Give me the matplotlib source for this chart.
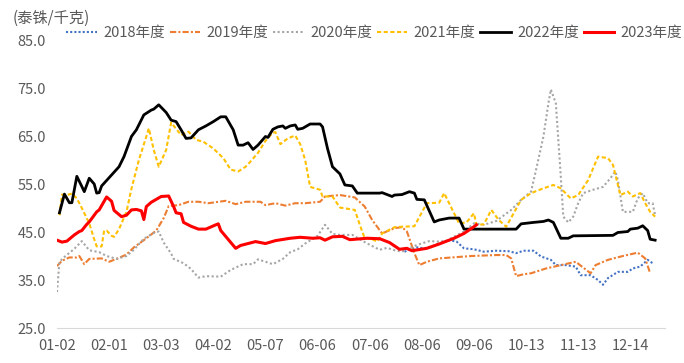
import matplotlib
matplotlib.use("Agg")
import matplotlib.pyplot as plt

plt.rcParams['font.family'] = ['Noto Sans CJK SC', 'DejaVu Sans']

# Categories: trading-day index along the year, labels every 21 points
tick_pos = [0, 21, 42, 63, 84, 105, 126, 147, 168, 189, 210, 231]
tick_labels = ['01-02', '02-01', '03-03', '04-02', '05-07', '06-06',
               '07-06', '08-06', '09-06', '10-13', '11-13', '12-14']

# 2018 (blue, dotted)
x2018 = [140, 145, 148, 151, 154, 158, 161, 164, 168, 172, 177, 182, 185, 188,
         192, 195, 199, 201, 205, 209, 211, 215, 218, 220, 222, 226, 230, 232,
         235, 238, 240]
y2018 = [40.9, 41.8, 41.6, 42.0, 42.6, 43.3, 43.0, 41.6, 41.4, 40.9, 41.1, 41.0,
         40.6, 41.1, 41.1, 39.9, 39.2, 38.1, 38.1, 37.8, 36.0, 36.0, 35.0, 34.0,
         35.4, 36.7, 36.7, 37.4, 37.8, 39.2, 38.5]

# 2019 (orange, dash-dot)
x2019 = [0, 2, 5, 8, 9, 11, 13, 18, 21, 24, 28, 31, 35, 38, 40, 43, 45, 49, 53,
         57, 61, 68, 72, 76, 82, 84, 88, 92, 96, 100, 106, 108, 114, 120, 124,
         127, 131, 136, 139, 141, 144, 146, 149, 154, 167, 177, 181, 183, 185,
         188, 191, 197, 203, 209, 215, 217, 222, 228, 234, 237, 239]
y2019 = [37.9, 39.0, 39.7, 39.7, 40.0, 38.3, 39.4, 39.5, 38.8, 39.4, 40.3, 41.8,
         43.3, 44.5, 45.3, 47.9, 50.4, 50.6, 51.3, 51.3, 51.0, 51.5, 50.8, 51.3,
         51.3, 50.6, 51.0, 50.5, 51.0, 51.0, 51.3, 52.4, 52.7, 52.2, 50.3, 47.5,
         44.7, 45.8, 46.0, 45.1, 40.6, 38.1, 38.8, 39.5, 40.0, 40.2, 40.2, 39.5,
         35.8, 36.2, 36.4, 37.4, 38.1, 38.8, 36.4, 38.1, 39.2, 40.0, 40.7, 39.5,
         36.4]

# 2020 (grey, dotted)
x2020 = [0, 1, 3, 7, 10, 13, 17, 20, 24, 28, 31, 35, 39, 41, 43, 46, 47, 51, 54,
         57, 60, 66, 70, 75, 79, 81, 84, 87, 91, 94, 97, 100, 105, 108, 111, 114,
         119, 125, 130, 133, 136, 139, 145, 150, 154, 157, 164, 168, 172, 177,
         183, 187, 191, 193, 196, 198, 199, 201, 203, 204, 206, 208, 210, 212,
         216, 220, 223, 225, 226, 228, 232, 234, 236, 238, 240, 241]
y2020 = [32.5, 38.8, 39.8, 41.5, 43.1, 41.2, 40.8, 40.0, 39.4, 40.0, 41.3, 43.6,
         44.8, 45.1, 42.8, 40.5, 39.4, 38.5, 37.3, 35.5, 35.8, 35.7, 37.1, 38.3,
         38.3, 39.3, 38.8, 38.3, 39.4, 40.8, 41.4, 42.6, 44.2, 46.5, 44.6, 44.4,
         44.4, 42.6, 41.3, 41.7, 41.2, 40.9, 42.3, 43.1, 43.0, 43.2, 45.1, 46.8,
         46.5, 47.3, 49.6, 51.7, 53.4, 57.9, 64.9, 71.8, 74.7, 71.8, 56.5, 48.2,
         47.0, 48.2, 51.0, 53.1, 53.8, 54.4, 56.2, 57.6, 55.8, 49.2, 49.2, 52.0,
         53.1, 51.0, 51.0, 48.5]

# 2021 (yellow, dashed)
x2021 = [1, 2, 4, 6, 8, 10, 13, 15, 16, 18, 19, 20, 22, 23, 25, 28, 30, 33, 36,
         37, 39, 41, 44, 46, 50, 53, 56, 59, 63, 67, 70, 73, 76, 78, 81, 84, 87,
         88, 90, 93, 96, 98, 100, 102, 106, 107, 111, 114, 120, 122, 124, 127,
         129, 131, 136, 139, 144, 149, 154, 156, 160, 162, 165, 168, 169, 172,
         175, 178, 181, 184, 187, 191, 196, 200, 203, 207, 210, 214, 218, 222,
         224, 227, 230, 232, 235, 237, 239, 241]
y2021 = [48.5, 52.8, 52.7, 53.0, 52.0, 50.0, 46.8, 43.5, 42.0, 42.0, 45.3, 45.3,
         44.2, 44.0, 45.6, 49.2, 54.0, 60.0, 64.9, 66.6, 62.1, 58.6, 62.1, 67.8,
         65.2, 65.9, 64.2, 63.8, 62.4, 60.4, 58.0, 57.6, 58.6, 59.7, 61.5, 64.0,
         65.7, 65.8, 63.3, 64.5, 65.1, 63.3, 60.0, 54.4, 53.8, 52.4, 52.4, 50.1,
         49.6, 46.5, 43.7, 43.5, 43.0, 44.7, 46.0, 46.1, 46.2, 51.0, 51.1, 53.1,
         48.9, 46.8, 47.0, 48.9, 46.5, 46.6, 49.6, 47.5, 46.1, 48.9, 51.7, 53.1,
         54.1, 54.8, 54.1, 52.0, 52.7, 55.8, 60.7, 60.4, 59.0, 52.7, 53.4, 52.4,
         53.1, 51.0, 49.2, 48.2]

# 2022 (black, solid)
x2022 = [1, 3, 5, 6, 8, 10, 11, 13, 15, 16, 17, 18, 25, 27, 30, 32, 35, 38, 39,
         41, 44, 46, 48, 50, 52, 54, 57, 60, 63, 66, 68, 71, 73, 75, 77, 79, 81,
         84, 85, 87, 89, 91, 92, 94, 96, 97, 99, 102, 106, 107, 109, 111, 114,
         116, 119, 121, 130, 131, 135, 136, 139, 142, 144, 145, 148, 152, 154,
         158, 162, 164, 185, 187, 192, 196, 198, 200, 203, 206, 208, 224, 226,
         230, 231, 234, 236, 238, 239, 241]
y2022 = [49.0, 52.9, 51.1, 51.1, 56.6, 54.5, 53.4, 56.2, 55.0, 53.1, 53.2, 54.6,
         58.6, 60.7, 64.9, 66.3, 69.4, 70.4, 70.6, 71.5, 69.9, 68.3, 68.0, 66.3,
         64.5, 64.6, 66.3, 67.1, 68.0, 69.0, 69.0, 66.3, 63.1, 63.1, 63.6, 62.2,
         63.1, 64.9, 64.7, 66.4, 66.9, 67.1, 66.6, 67.1, 67.3, 66.4, 66.6, 67.5,
         67.5, 66.9, 62.4, 58.6, 57.1, 54.8, 54.6, 53.1, 53.1, 53.2, 52.4, 52.7,
         52.8, 53.4, 53.1, 51.8, 51.7, 47.1, 47.5, 47.9, 47.9, 45.6, 45.6, 46.7,
         47.0, 47.2, 47.5, 47.0, 43.7, 43.7, 44.2, 44.3, 44.9, 45.1, 45.6, 45.8,
         46.3, 45.3, 43.5, 43.3]

# 2023 (red, solid)
x2023 = [0, 2, 4, 7, 9, 10, 12, 13, 16, 17, 20, 22, 23, 26, 28, 30, 32, 34, 35,
         36, 38, 42, 45, 47, 48, 50, 51, 54, 57, 60, 64, 65, 66, 72, 74, 80, 84,
         88, 94, 98, 103, 106, 108, 111, 115, 118, 125, 130, 134, 138, 141, 143,
         149, 154, 160, 164, 168, 169]
y2023 = [43.3, 42.9, 43.1, 44.4, 45.1, 45.3, 46.6, 47.1, 49.2, 49.6, 52.3, 51.4,
         49.5, 48.2, 48.5, 49.6, 49.7, 49.4, 47.6, 50.3, 51.2, 52.4, 52.5, 50.3,
         49.0, 48.8, 47.0, 46.2, 45.6, 45.6, 46.5, 46.7, 45.3, 41.6, 42.2, 43.0,
         42.6, 43.2, 43.7, 43.9, 43.7, 43.8, 43.3, 44.0, 44.1, 43.4, 43.7, 43.6,
         42.8, 41.4, 41.6, 41.1, 41.6, 42.5, 43.7, 44.7, 46.1, 46.5]

fig = plt.figure(figsize=(6.84, 3.63), dpi=100)
ax = fig.add_axes([0.0833, 0.0964, 0.889, 0.7934])

ax.plot(x2018, y2018, color='#4472C4', lw=1.5, ls=(0, (1, 1)), label='2018年度')
ax.plot(x2019, y2019, color='#ED7D31', lw=1.5, ls=(0, (3, 1, 1, 1)), label='2019年度')
ax.plot(x2020, y2020, color='#A5A5A5', lw=1.5, ls=(0, (1, 1.2)), label='2020年度')
ax.plot(x2021, y2021, color='#FFC000', lw=1.5, ls=(0, (2, 1.2)), label='2021年度')
ax.plot(x2022, y2022, color='#000000', lw=2.0, label='2022年度')
ax.plot(x2023, y2023, color='#FF0000', lw=2.2, label='2023年度')

ax.set_xlim(0, 245)
ax.set_ylim(25, 85)
ax.set_yticks([25, 35, 45, 55, 65, 75, 85])
ax.set_yticklabels([f'{v:.1f}' for v in [25, 35, 45, 55, 65, 75, 85]])
ax.set_xticks(tick_pos)
ax.set_xticklabels(tick_labels)
ax.tick_params(axis='both', length=0, labelsize=10.5, colors='#595959')
ax.tick_params(axis='y', pad=8)
ax.tick_params(axis='x', pad=8)

for s in ['top', 'right', 'left']:
    ax.spines[s].set_visible(False)
ax.spines['bottom'].set_color('#D9D9D9')
ax.spines['bottom'].set_linewidth(0.8)

fig.text(0.018, 0.95, '(泰铢/千克)', fontsize=11, color='#595959', va='center', ha='left')

ax.legend(loc='center left', bbox_to_anchor=(0.097, 0.91), bbox_transform=fig.transFigure,
          ncol=6, frameon=False, fontsize=10.5, handlelength=2.1, handletextpad=0.45,
          columnspacing=0.3, labelcolor='#595959', borderaxespad=0, borderpad=0)

fig.savefig('out.png', dpi=100)
